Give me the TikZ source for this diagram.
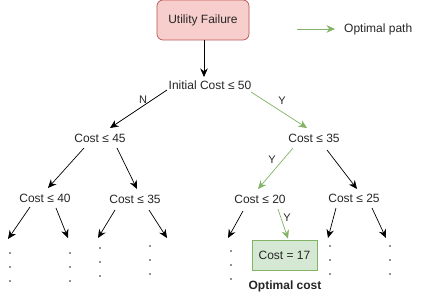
\documentclass[tikz,border=0pt]{standalone}
\usepackage{fontspec}
\setmainfont{Liberation Sans}
\usetikzlibrary{arrows.meta,calc}
\definecolor{failfill}{HTML}{F8CECC}
\definecolor{failline}{HTML}{B85450}
\definecolor{okfill}{HTML}{D5E8D4}
\definecolor{okline}{HTML}{82B366}
\tikzset{
  lbl/.style={font=\fontsize{12}{14}\selectfont, inner sep=0pt, text=black!85},
  small/.style={font=\fontsize{11}{13}\selectfont, inner sep=0pt, text=black!85},
  arr/.style={-{Stealth[length=8.5pt,width=7.5pt]}, line width=0.7pt, black},
  garr/.style={-{Stealth[length=8.5pt,width=7.5pt]}, line width=0.7pt, okline},
  dot/.style={circle, fill=black!85, inner sep=0pt, minimum size=1.8pt},
}
\newcommand{\dotcol}[2]{%
  \node[dot] at (#1,#2) {};
  \node[dot] at (#1,#2+14) {};
  \node[dot] at (#1,#2+28) {};}
\begin{document}
\begin{tikzpicture}[x=1pt,y=-1pt]
\useasboundingbox[fill=white] (0,0) rectangle (428,296);

% top event
\node[draw=failline, fill=failfill, rounded corners=6pt, line width=0.7pt,
      minimum width=92pt, minimum height=40pt, lbl] (uf) at (203,20) {Utility Failure};

% legend
\coordinate (lga) at (297,29);
\coordinate (lgb) at (335,29);
\draw[garr] (lga) -- (lgb);
\node[lbl, anchor=west] (lgt) at (344,29) {Optimal path};

% decision nodes
\node[lbl] (root) at (210,85) {Initial Cost ≤ 50};
\node[lbl] (c45) at (100,138) {Cost ≤ 45};
\node[lbl] (c35a) at (314,138) {Cost ≤ 35};
\node[lbl] (c40) at (45,198) {Cost ≤ 40};
\node[lbl] (c35b) at (135,199) {Cost ≤ 35};
\node[lbl] (c20) at (260,199) {Cost ≤ 20};
\node[lbl] (c25) at (354,198) {Cost ≤ 25};

% result
\node[draw=okline, fill=okfill, line width=0.7pt, minimum width=65pt,
      minimum height=30pt, lbl] (c17) at (284.5,255) {Cost = 17};
\node[lbl, font=\fontsize{12}{14}\selectfont\bfseries] (opt) at (285,286) {Optimal cost};

% connectors
\draw[arr] (uf.south -| 204,0) -- ($(root)+(-6,-8)$);
\draw[arr] ($(root)+(-43,5)$) -- ($(c45)+(10,-10)$);
\node[small] (lN) at (143,100) {N};
\draw[garr] ($(root)+(41,7)$) -- ($(c35a)+(-7,-10)$);
\node[small] (lY1) at (282,101) {Y};

\draw[arr] ($(c45)+(-16,10)$) -- ($(c40)+(3,-10)$);
\draw[arr] ($(c45)+(17,10)$) -- ($(c35b)+(2,-10)$);

\draw[garr] ($(c35a)+(-21,10)$) -- ($(c20)+(-2,-10)$);
\node[small] (lY2) at (272,160) {Y};
\draw[arr] ($(c35a)+(13,12)$) -- ($(c25)+(3,-9)$);

% open branches
\coordinate (t1) at (8,239);
\coordinate (t2) at (68,238);
\coordinate (t3) at (98,238);
\coordinate (t4) at (167,238);
\coordinate (t5) at (228,238);
\coordinate (t6) at (328,238);
\coordinate (t7) at (386,238);

\draw[arr] ($(c40)+(-15,9)$) -- (t1);
\draw[arr] ($(c40)+(11,10)$) -- (t2);
\draw[arr] ($(c35b)+(-20,11)$) -- (t3);
\draw[arr] ($(c35b)+(14,11)$) -- (t4);
\draw[arr] ($(c20)+(-17,12)$) -- (t5);
\draw[garr] ($(c20)+(18,10)$) -- ($(c17.north)+(3.5,-1)$);
\node[small] (lY3) at (287,218) {Y};
\draw[arr] ($(c25)+(-18,10)$) -- (t6);
\draw[arr] ($(c25)+(18,10)$) -- (t7);

% continuation dots
\dotcol{10}{253}
\dotcol{70}{253}
\dotcol{100}{248}
\dotcol{150}{246}
\dotcol{231}{251}
\dotcol{330}{246}
\dotcol{390}{246}
\end{tikzpicture}
\end{document}
